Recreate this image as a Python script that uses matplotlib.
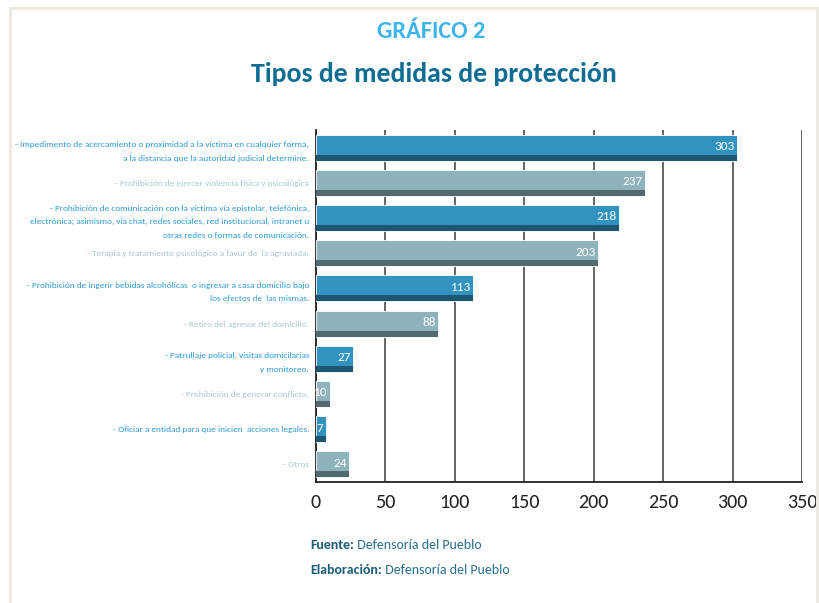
import matplotlib
matplotlib.use('Agg')
import matplotlib.pyplot as plt
from matplotlib.lines import Line2D

# data
categories = [
    "- Impedimento de acercamiento o proximidad a la víctima en cualquier forma,\na la distancia que la autoridad judicial determine.",
    "- Prohibición de ejercer violencia física y psicológica",
    "- Prohibición de comunicación con la víctima vía epistolar, telefónica,\nelectrónica; asimismo, vía chat, redes sociales, red institucional, intranet u\notras redes o formas de comunicación.",
    "- Terapia y tratamiento psicológico a favor de  la agraviada.",
    "- Prohibición de ingerir bebidas alcohólicas  o ingresar a casa domicilio bajo\nlos efectos de  las mismas.",
    "- Retiro del agresor del domicilio.",
    "- Patrullaje policial, visitas domicilarias\ny monitoreo.",
    "- Prohibición de generar conflicto.",
    "- Oficiar a entidad para que inicien  acciones legales.",
    "- Otros",
]
values = [303, 237, 218, 203, 113, 88, 27, 10, 7, 24]
x_ticks = [0, 50, 100, 150, 200, 250, 300, 350]

plt.rcParams['font.family'] = ['Carlito', 'DejaVu Sans']

BLUE, BLUE_DARK, BLUE_TXT = '#3393c0', '#1e5571', '#2f9ad3'
GRAY, GRAY_DARK, GRAY_TXT = '#8fb3bd', '#51696f', '#a9c7d1'

fig = plt.figure(figsize=(8.19, 6.03), dpi=100)
ax = fig.add_axes([0.3858, 0.2007, 0.5934, 0.5837])

ypos = list(range(len(values)))
fills = [BLUE if i % 2 == 0 else GRAY for i in ypos]
shades = [BLUE_DARK if i % 2 == 0 else GRAY_DARK for i in ypos]
bar_h = 0.74
stripe_h = 0.17
ax.barh(ypos, values, height=bar_h, color=fills, edgecolor='white', linewidth=0.6, zorder=3)
ax.barh([y + bar_h / 2 - stripe_h / 2 for y in ypos], values, height=stripe_h,
        color=shades, linewidth=0, zorder=4)

# value labels inside the bar end
for y, v in zip(ypos, values):
    ax.annotate(str(v), xy=(v, y - 0.03), xytext=(-1.5, 0), textcoords='offset points',
                ha='right', va='center', color='white', fontsize=9.5, zorder=5)

ax.set_xlim(0, 350)
ax.set_ylim(len(values) - 0.5, -0.5)
ax.set_xticks(x_ticks)
ax.set_xticklabels([str(t) for t in x_ticks], fontsize=14.5, color='#222222')
ax.tick_params(axis='x', length=0, pad=9)
ax.set_yticks(ypos)
ax.set_yticklabels(categories, fontsize=6.7)
ax.tick_params(axis='y', length=0, pad=5)
for i, lab in enumerate(ax.get_yticklabels()):
    lab.set_color(BLUE_TXT if i % 2 == 0 else GRAY_TXT)
    lab.set_linespacing(2.1)

ax.grid(axis='x', color='#3a3a3a', linewidth=1.1, zorder=0)
ax.set_axisbelow(True)
for s in ['top', 'right']:
    ax.spines[s].set_visible(False)
for s in ['left', 'bottom']:
    ax.spines[s].set_color('#222222')
    ax.spines[s].set_linewidth(1.3)

# titles
fig.text(0.527, 0.948, 'GRÁFICO 2', ha='center', va='center', fontsize=17.5,
         fontweight='bold', color='#3cb4ec')
fig.text(0.530, 0.878, 'Tipos de medidas de protección', ha='center', va='center',
         fontsize=20, fontweight='bold', color='#0f6d94')

# footer
for yy, head in [(0.096, 'Fuente:'), (0.055, 'Elaboración:')]:
    t = fig.text(0.379, yy, head, ha='left', va='center', fontsize=10,
                 fontweight='bold', color='#1b5c78')
    ax.annotate(' Defensoría del Pueblo', xy=(1, 0), xycoords=t, ha='left', va='bottom',
                fontsize=10, color='#2b6f8c', annotation_clip=False)

# beige frame
frame = '#efeadf'
fig.add_artist(Line2D([0.0122, 0.0122], [0, 0.987], color=frame, lw=2.2, transform=fig.transFigure))
fig.add_artist(Line2D([0.0122, 0.997], [0.987, 0.987], color=frame, lw=2.2, transform=fig.transFigure))
fig.add_artist(Line2D([0.997, 0.997], [0, 0.987], color=frame, lw=2.2, transform=fig.transFigure))

fig.savefig('out.png', dpi=100)
